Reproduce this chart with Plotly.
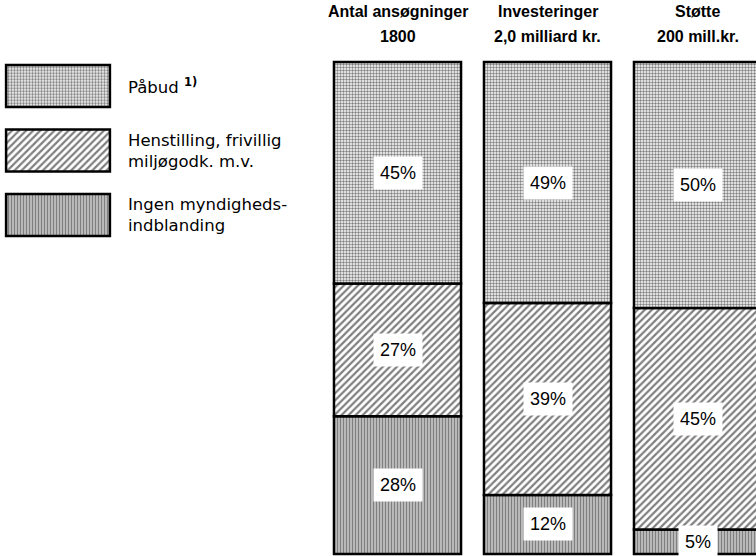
import plotly.graph_objects as go

# ---- data ----
categories = ["Antal ansøgninger", "Investeringer", "Støtte"]
subtitles = ["1800", "2,0 milliard kr.", "200 mill.kr."]
series_names = ["Påbud <sup><b>1)</b></sup>", "Henstilling, frivillig<br>miljøgodk. m.v.", "Ingen myndigheds-<br>indblanding"]
pabud = [45, 49, 50]
henstilling = [27, 39, 45]
ingen = [28, 12, 5]

W, H = 756, 556
FONT = "Liberation Sans, Arial, Helvetica, sans-serif"
LEGFONT = "DejaVu Sans, Liberation Sans, sans-serif"

patterns = [
    dict(shape=".", fgcolor="black", bgcolor="white", size=3, solidity=0.5),
    dict(shape="/", fgcolor="black", bgcolor="white", size=5, solidity=0.45),
    dict(shape="|", fgcolor="black", bgcolor="white", size=3, solidity=0.7),
]

# stacking order: bottom first
stack = [(ingen, patterns[2]), (henstilling, patterns[1]), (pabud, patterns[0])]
xs = list(range(len(categories)))

fig = go.Figure()
base = [0] * len(categories)
label_pos = []
for vals, pat in stack:
    fig.add_trace(go.Bar(
        x=xs, y=vals, base=base[:], width=0.847,
        marker=dict(color="white", pattern=pat, line=dict(color="black", width=2.5)),
        showlegend=False, hoverinfo="skip",
    ))
    for i, v in enumerate(vals):
        label_pos.append((i, base[i] + v / 2, v))
    base = [b + v for b, v in zip(base, vals)]

# percentage labels
for i, yc, v in label_pos:
    fig.add_annotation(x=i, y=yc, xref="x", yref="y", text=f"{v}%", showarrow=False,
                       font=dict(family=FONT, size=18, color="black"),
                       bgcolor="white", borderpad=6)

# column titles
for i, (c, s) in enumerate(zip(categories, subtitles)):
    fig.add_annotation(x=i, y=1 - 12 / H, xref="x", yref="paper", text=c, showarrow=False,
                       yanchor="middle", font=dict(family=FONT, size=16, color="black", weight="bold"))
    fig.add_annotation(x=i, y=1 - 36 / H, xref="x", yref="paper", text=s, showarrow=False,
                       yanchor="middle", font=dict(family=FONT, size=16, color="black", weight="bold"))

# legend swatches drawn as bars on a second axis pair
leg_idx = [0, 1, 2]
for k, pat in enumerate(patterns):
    fig.add_trace(go.Bar(
        x=[1], y=[leg_idx[k]], orientation="h", width=0.65,
        marker=dict(color="white", pattern=pat, line=dict(color="black", width=2.5)),
        xaxis="x2", yaxis="y2", showlegend=False, hoverinfo="skip",
    ))
    fig.add_annotation(x=126 / W, y=leg_idx[k], xref="paper", yref="y2", text=series_names[k],
                       showarrow=False, xanchor="left", yanchor="middle", align="left",
                       font=dict(family=LEGFONT, size=16.5, color="black"))

px_per_unit = 150
x0_px = 397.5
y_top_px, y_bot_px = 62, 554
py = (y_bot_px - y_top_px) / 100

fig.update_layout(
    width=W, height=H,
    margin=dict(l=0, r=0, t=0, b=0),
    paper_bgcolor="white", plot_bgcolor="white",
    barmode="overlay",
    hovermode=False,
    xaxis=dict(range=[-x0_px / px_per_unit, (W - x0_px) / px_per_unit], visible=False, domain=[0, 1]),
    yaxis=dict(range=[-(H - y_bot_px) / py, 100 + y_top_px / py], visible=False, domain=[0, 1]),
    xaxis2=dict(domain=[4 / W, 112 / W], range=[-0.02, 1.02], visible=False, anchor="y2"),
    yaxis2=dict(domain=[1 - 247.25 / H, 1 - 53.75 / H], range=[2.5, -0.5], visible=False, anchor="x2"),
    font=dict(family=FONT),
)

fig.write_html("out.html", config={"displayModeBar": False, "staticPlot": True},
               post_script="document.body.style.margin='0px';document.body.style.overflow='hidden';")
